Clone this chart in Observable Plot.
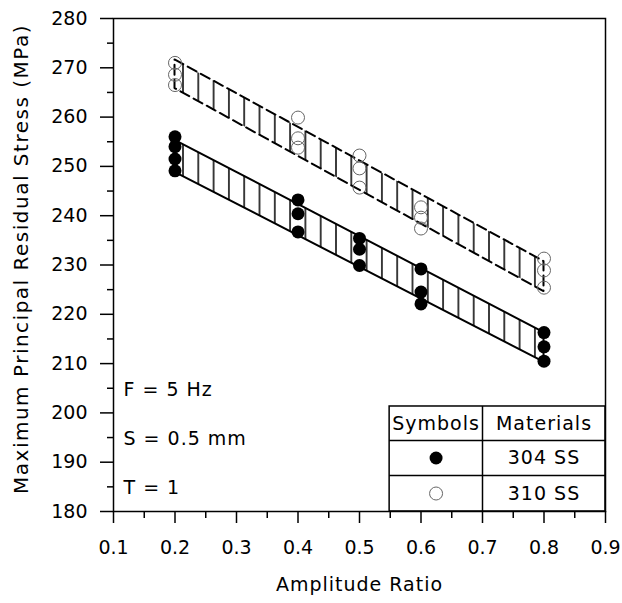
<!DOCTYPE html>
<html><head><meta charset="utf-8">
<script src="https://cdn.jsdelivr.net/npm/d3@7"></script>
<script src="https://cdn.jsdelivr.net/npm/@observablehq/plot@0.6"></script>
<style>body{margin:0;background:#fff;}</style>
</head><body><div id="chart"></div>
<script>
// ---- data ----
const xTicks = [0.1, 0.2, 0.3, 0.4, 0.5, 0.6, 0.7, 0.8, 0.9];
const xMinorTicks = [0.15, 0.25, 0.35, 0.45, 0.55, 0.65, 0.75, 0.85];
const yTicks = [180, 190, 200, 210, 220, 230, 240, 250, 260, 270, 280];
const yMinorTicks = [185, 195, 205, 215, 225, 235, 245, 255, 265, 275];

const ratio304 = [0.2, 0.2, 0.2, 0.2, 0.4, 0.4, 0.4, 0.5, 0.5, 0.5, 0.6, 0.6, 0.6, 0.8, 0.8, 0.8];
const stress304 = [256.0, 254.0, 251.5, 249.1, 243.2, 240.4, 236.7, 235.4, 233.2, 229.9, 229.2, 224.5, 222.1, 216.3, 213.4, 210.5];
const ratio310 = [0.2, 0.2, 0.2, 0.4, 0.4, 0.4, 0.5, 0.5, 0.5, 0.6, 0.6, 0.6, 0.8, 0.8, 0.8];
const stress310 = [271.0, 268.6, 266.5, 259.9, 255.7, 253.8, 252.2, 249.6, 245.7, 241.7, 239.6, 237.4, 231.3, 228.9, 225.4];

const bandX = [0.2, 0.8];
const band304Upper = [255.3, 216.3];
const band304Lower = [248.8, 210.3];
const band310Upper = [271.6, 230.7];
const band310Lower = [265.8, 224.6];

const annotations = ["F = 5 Hz", "S = 0.5 mm", "T = 1"];
const annotationY = [204.6, 194.7, 184.7];

const legendHeaders = ["Symbols", "Materials"];
const legendMaterials = ["304 SS", "310 SS"];

const xLabel = "Amplitude Ratio";
const yLabel = "Maximum Principal Residual Stress (MPa)";

// ---- build tables ----
const pts304 = ratio304.map((x, i) => ({x, y: stress304[i]}));
const pts310 = ratio310.map((x, i) => ({x, y: stress310[i]}));
const band304 = bandX.map((x, i) => ({x, lo: band304Lower[i], hi: band304Upper[i]}));
const band310 = bandX.map((x, i) => ({x, lo: band310Lower[i], hi: band310Upper[i]}));
const notes = annotations.map((t, i) => ({t, y: annotationY[i]}));

// legend table layout (data units)
const LX0 = 0.549, LX1 = 0.9, LXD = 0.7;
const LY = [201.3, 194.4, 187.3, 180];
const colC1 = (LX0 + LXD) / 2, colC2 = (LXD + LX1) / 2;
const rowC = [(LY[0] + LY[1]) / 2, (LY[1] + LY[2]) / 2, (LY[2] + LY[3]) / 2];

const font = "DejaVu Sans, Verdana, sans-serif";

const plot = Plot.plot({
  width: 622,
  height: 603,
  marginLeft: 113,
  marginRight: 17,
  marginTop: 18,
  marginBottom: 92,
  style: {fontFamily: font, fontSize: "19px", background: "#fff", color: "#000", overflow: "visible"},
  x: {domain: [0.1, 0.9]},
  y: {domain: [180, 280]},
  marks: [
    Plot.areaY(band304, {x: "x", y1: "lo", y2: "hi", fill: "url(#hatch)", stroke: "black", strokeWidth: 2}),
    Plot.areaY(band310, {x: "x", y1: "lo", y2: "hi", fill: "url(#hatch)", stroke: "black", strokeWidth: 2, strokeDasharray: "10,5"}),
    Plot.dot(pts310, {x: "x", y: "y", r: 6.5, fill: "none", stroke: "#666", strokeWidth: 1}),
    Plot.dot(pts304, {x: "x", y: "y", r: 6.5, fill: "black", stroke: "none"}),
    // legend table
    Plot.rect([0], {x1: LX0, x2: LX1, y1: LY[3], y2: LY[0], fill: "white", stroke: "black", strokeWidth: 1.5}),
    Plot.ruleY([LY[1], LY[2]], {x1: LX0, x2: LX1, stroke: "black", strokeWidth: 1.5}),
    Plot.ruleX([LXD], {y1: LY[3], y2: LY[0], stroke: "black", strokeWidth: 1.5}),
    Plot.text(legendHeaders, {x: (d, i) => i === 0 ? colC1 : colC2, y: rowC[0], text: d => d, fontSize: 19}),
    Plot.text(legendMaterials, {x: colC2, y: (d, i) => rowC[i + 1], text: d => d, fontSize: 19}),
    Plot.dot([0], {x: colC1, y: rowC[1], r: 6.5, fill: "black"}),
    Plot.dot([0], {x: colC1, y: rowC[2], r: 6.5, fill: "none", stroke: "#666", strokeWidth: 1}),
    // annotations
    Plot.text(notes, {x: 0.1, y: "y", text: "t", textAnchor: "start", dx: 10, fontSize: 19}),
    Plot.frame({stroke: "black", strokeWidth: 1.5}),
    Plot.axisX({ticks: xTicks, tickSize: 12, tickPadding: 17, tickFormat: d3.format(".1f"), label: null, strokeWidth: 1.5}),
    Plot.axisX({ticks: xMinorTicks, tickSize: 7, tickFormat: () => "", label: null, strokeWidth: 1.5}),
    Plot.axisY({ticks: yTicks, tickSize: 13, tickPadding: 13, tickFormat: d3.format("d"), label: null, strokeWidth: 1.5}),
    Plot.axisY({ticks: yMinorTicks, tickSize: 6, tickFormat: () => "", label: null, strokeWidth: 1.5}),
    Plot.text([yLabel], {frameAnchor: "left", textAnchor: "middle", lineAnchor: "middle", text: d => d, rotate: -90, dx: -92, dy: -6, fontSize: 20}),
    Plot.text([xLabel], {frameAnchor: "bottom", textAnchor: "middle", lineAnchor: "middle", text: d => d, dy: 73, fontSize: 19})
  ]
});

// letter spacing to mimic the wider reference face (non-numeric texts)
plot.querySelectorAll("text").forEach(t => {
  const s = t.textContent;
  if (s === yLabel) t.setAttribute("letter-spacing", "1.5");
  else if (/[A-Za-z]/.test(s)) t.setAttribute("letter-spacing", "1");
});

const ns = "http://www.w3.org/2000/svg";
const defs = document.createElementNS(ns, "defs");
const pat = document.createElementNS(ns, "pattern");
pat.setAttribute("id", "hatch");
pat.setAttribute("patternUnits", "userSpaceOnUse");
pat.setAttribute("x", String(183 - 7.65));
pat.setAttribute("y", "0");
pat.setAttribute("width", "15.3");
pat.setAttribute("height", "20");
const ln = document.createElementNS(ns, "line");
ln.setAttribute("x1", "7.65"); ln.setAttribute("x2", "7.65");
ln.setAttribute("y1", "-1"); ln.setAttribute("y2", "21");
ln.setAttribute("stroke", "black"); ln.setAttribute("stroke-width", "1.5");
pat.appendChild(ln);
defs.appendChild(pat);
plot.insertBefore(defs, plot.firstChild);

document.getElementById("chart").appendChild(plot);
</script>
</body></html>
